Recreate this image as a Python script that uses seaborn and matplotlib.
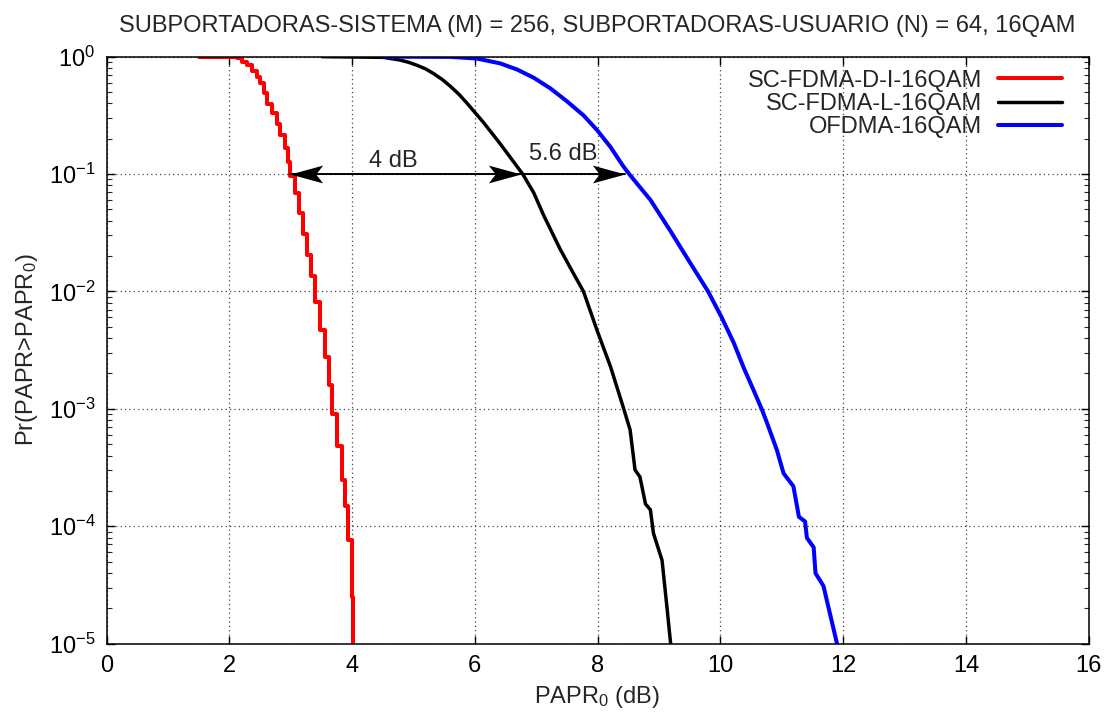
import numpy as np
import pandas as pd
import matplotlib
matplotlib.use("Agg")
import matplotlib.pyplot as plt
import seaborn as sns
from matplotlib.ticker import LogLocator, FixedLocator
from matplotlib.path import Path

# CCDF of PAPR: x = PAPR0 in dB, y = log10 Pr(PAPR > PAPR0)
di_papr = [1.50, 1.90, 2.01, 2.12, 2.20, 2.29, 2.37, 2.45, 2.50, 2.56, 2.62, 2.69,
           2.77, 2.83, 2.91, 2.96, 2.99, 3.07, 3.13, 3.20, 3.26, 3.33, 3.40, 3.48,
           3.56, 3.62, 3.67, 3.75, 3.83, 3.89, 3.94, 4.00, 4.02]
di_logp = [0.0, 0.0, -0.003, -0.014, -0.043, -0.072, -0.12, -0.17, -0.227, -0.31,
           -0.40, -0.48, -0.57, -0.67, -0.78, -0.90, -1.02, -1.16, -1.33, -1.51,
           -1.69, -1.87, -2.09, -2.33, -2.56, -2.80, -3.04, -3.32, -3.61, -3.83,
           -4.12, -4.60, -5.0]

l_papr = [3.51, 4.51, 4.78, 4.92, 5.06, 5.20, 5.33, 5.47, 5.60, 5.74, 5.87, 6.14,
          6.41, 6.63, 6.78, 6.96, 7.12, 7.39, 7.61, 7.77, 7.99, 8.21, 8.42, 8.53,
          8.61, 8.69, 8.78, 8.86, 8.91, 9.05, 9.13, 9.19]
l_logp = [0.0, -0.006, -0.029, -0.048, -0.074, -0.105, -0.145, -0.195, -0.252,
          -0.32, -0.395, -0.56, -0.74, -0.895, -1.0, -1.16, -1.35, -1.64, -1.85,
          -2.0, -2.33, -2.64, -2.99, -3.18, -3.52, -3.58, -3.81, -3.86, -4.06,
          -4.29, -4.69, -5.0]

ofdma_papr = [4.51, 5.60, 6.03, 6.41, 6.69, 6.96, 7.23, 7.50, 7.77, 7.99, 8.21,
              8.42, 8.53, 8.86, 9.18, 9.50, 9.80, 10.02, 10.22, 10.38, 10.54,
              10.68, 10.76, 10.92, 11.03, 11.19, 11.28, 11.38, 11.41, 11.52,
              11.55, 11.68, 11.90]
ofdma_logp = [0.0, -0.002, -0.016, -0.057, -0.11, -0.18, -0.27, -0.38, -0.50,
              -0.625, -0.77, -0.935, -1.01, -1.22, -1.48, -1.75, -2.0, -2.22,
              -2.44, -2.65, -2.84, -3.01, -3.12, -3.35, -3.55, -3.66, -3.92,
              -3.96, -4.10, -4.18, -4.40, -4.51, -5.0]

series_names = ["SC-FDMA-D-I-16QAM", "SC-FDMA-L-16QAM", "OFDMA-16QAM"]
series_colors = ["#ff0000", "#000000", "#0000ff"]

x_ticks = [0, 2, 4, 6, 8, 10, 12, 14, 16]
y_ticks = [1e-5, 1e-4, 1e-3, 1e-2, 1e-1, 1e0]

# PAPR values at Pr = 0.1 used for the gap annotations
gap_level = 0.1
gap_di, gap_l, gap_ofdma = 2.99, 6.76, 8.45
gap_labels = ["4 dB", "5.6 dB"]

FS = 17

sns.set_theme(style="ticks")
plt.rcParams["font.family"] = ["Liberation Sans", "DejaVu Sans"]
plt.rcParams["mathtext.fontset"] = "custom"
plt.rcParams["mathtext.rm"] = "Liberation Sans"
plt.rcParams["mathtext.it"] = "Liberation Sans:italic"

fig = plt.figure(figsize=(11.12, 7.17), dpi=100)
ax = fig.add_axes([0.0958, 0.1024, 0.979 - 0.0958, 0.921 - 0.1024])

df_di = pd.DataFrame({"x": di_papr, "y": np.power(10.0, di_logp)})
df_l = pd.DataFrame({"x": l_papr, "y": np.power(10.0, l_logp)})
df_o = pd.DataFrame({"x": ofdma_papr, "y": np.power(10.0, ofdma_logp)})

sns.lineplot(data=df_di, x="x", y="y", ax=ax, color=series_colors[0], lw=2.9,
             drawstyle="steps-post", sort=False, estimator=None, label=series_names[0])
sns.lineplot(data=df_l, x="x", y="y", ax=ax, color=series_colors[1], lw=2.5,
             sort=False, estimator=None, label=series_names[1])
sns.lineplot(data=df_o, x="x", y="y", ax=ax, color=series_colors[2], lw=2.9,
             sort=False, estimator=None, label=series_names[2])

ax.set_yscale("log")
ax.set_xlim(0, 16)
ax.set_ylim(1e-5, 1)
ax.xaxis.set_major_locator(FixedLocator(x_ticks))
ax.yaxis.set_major_locator(FixedLocator(y_ticks))
ax.yaxis.set_minor_locator(LogLocator(base=10, subs=np.arange(2, 10), numticks=20))
ax.tick_params(which="major", direction="in", length=6, width=1, top=True, right=True,
               labelsize=FS, colors="black", pad=8)
ax.tick_params(which="minor", direction="in", length=3.5, width=0.8, top=False, right=True)
ax.tick_params(axis="x", which="minor", bottom=False, top=False)

ax.grid(True, which="major", linestyle=(0, (1, 2.5)), color="#444444", lw=0.9)
for s in ax.spines.values():
    s.set_color("black")
    s.set_linewidth(1.1)

ax.set_xlabel("PAPR$_0$ (dB)", fontsize=FS, labelpad=5)
ax.set_ylabel("Pr(PAPR>PAPR$_0$)", fontsize=FS, labelpad=6)
ax.set_title("SUBPORTADORAS-SISTEMA (M) = 256, SUBPORTADORAS-USUARIO (N) = 64, 16QAM",
             fontsize=FS, pad=18)

# notched arrow heads (tip at origin)
head_right = Path([(0, 0), (-33, 9), (-26, 0), (-33, -9), (0, 0)],
                  [Path.MOVETO, Path.LINETO, Path.LINETO, Path.LINETO, Path.CLOSEPOLY])
head_left = Path([(0, 0), (33, 9), (26, 0), (33, -9), (0, 0)],
                 [Path.MOVETO, Path.LINETO, Path.LINETO, Path.LINETO, Path.CLOSEPOLY])
HEAD_MS = 47

ax.plot([gap_di, gap_l], [gap_level, gap_level], color="black", lw=1.4, zorder=4)
ax.plot([gap_l, gap_ofdma], [gap_level, gap_level], color="black", lw=1.4, zorder=4)
ax.plot([gap_di], [gap_level], marker=head_left, ms=HEAD_MS, color="black", mew=0, ls="none", zorder=4)
ax.plot([gap_l], [gap_level], marker=head_right, ms=HEAD_MS, color="black", mew=0, ls="none", zorder=4)
ax.plot([gap_ofdma], [gap_level], marker=head_right, ms=HEAD_MS, color="black", mew=0, ls="none", zorder=4)

ax.text(4.67, 0.13, gap_labels[0], fontsize=FS, ha="center", va="center")
ax.text(7.44, 0.147, gap_labels[1], fontsize=FS, ha="center", va="center")

leg = ax.legend(loc="upper right", bbox_to_anchor=(0.973, 0.978), frameon=False,
                markerfirst=False, fontsize=FS, handlelength=2.7,
                handletextpad=0.68, labelspacing=0.06, borderaxespad=0, borderpad=0)

fig.savefig("out.png", dpi=100)
